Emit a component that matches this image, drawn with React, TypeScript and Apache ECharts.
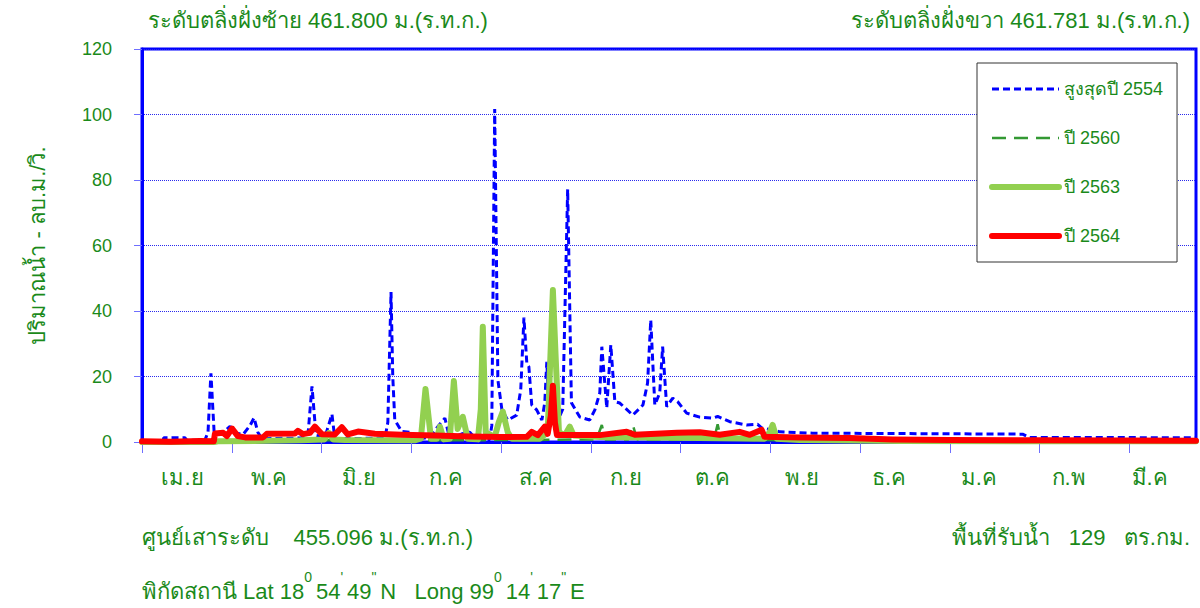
import React, { useEffect, useRef } from "react";
import * as echarts from "echarts";

const monthLabels = ["เม.ย", "พ.ค", "มิ.ย", "ก.ค", "ส.ค", "ก.ย", "ต.ค", "พ.ย", "ธ.ค", "ม.ค", "ก.พ", "มี.ค"];
const tickDays = [0, 31, 62, 93, 124, 155, 186, 217, 248, 279, 310, 341];
const labelDays = [14, 44, 75, 105, 136, 167, 197, 228, 258, 289, 320, 348];
const yTicks = [0, 20, 40, 60, 80, 100, 120];

const seriesNames = ["สูงสุดปี 2554", "ปี 2560", "ปี 2563", "ปี 2564"];

// [day since 1 Apr, m3/s]
const max2554 = [
  [0, 0], [7.2, 0], [7.5, 1.3], [14.8, 1.3], [15.5, 0.5], [21.7, 0.5], [22.8, 3], [23.8, 21], [24.9, 3.1],
  [27.6, 2.5], [30.4, 4.8], [32.1, 2.8], [34.9, 2.3], [37.3, 5], [38.7, 7.4], [40, 3], [41.4, 1.0],
  [54.5, 1.2], [57.3, 2], [58.7, 17], [60.1, 2], [63.2, 1.5], [65.6, 8.5], [66.6, 1], [83.9, 1.2],
  [84.9, 6], [86, 45.8], [86.6, 20], [87.3, 6.7], [89.7, 3.2], [92.5, 3], [93.5, 0.6], [99.4, 1.5],
  [101.8, 4.3], [104.6, 7.3], [106.3, 1.0], [110.5, 2.5], [113.2, 3], [115.6, 0.6], [120.1, 0.8],
  [120.8, 5], [121.8, 101.7], [122.9, 19], [124.3, 9.8], [126.3, 6.7], [129.4, 8.2], [130.8, 16],
  [131.9, 38], [132.9, 24], [133.6, 23], [134.6, 11.3], [136.3, 9.8], [138.1, 6.7], [139.1, 12],
  [139.8, 24.5], [140.5, 10.7], [144.3, 8], [145.3, 10], [147, 77.2], [148.3, 12], [151.2, 7.6],
  [154.6, 6.7], [156.4, 9.8], [158.1, 15], [158.8, 29.1], [160.5, 10.4], [161.9, 29.6], [163.3, 12.3],
  [165, 11.9], [169.5, 8.2], [173, 11.3], [174.6, 18], [175.7, 37.2], [177.1, 11.3], [178.8, 15],
  [179.8, 29.1], [181.2, 10.8], [183.3, 13.4], [185, 12.3], [188.1, 8.8], [192.6, 7.6], [197.1, 7.3],
  [198.8, 7.8], [203, 6.2], [208.8, 5.2], [212.6, 5.4], [214, 4.3], [217.8, 3.7], [220.2, 3.1],
  [231.6, 2.7], [304.1, 2.4], [306.5, 1.4], [364, 1.3]
];

const y2560 = [
  [0, 0.2], [25, 0.3], [60, 0.5], [100, 0.5], [126, 0.6], [128.5, 1.8], [130, 0.6], [157, 0.8],
  [158.8, 5.2], [160, 0.8], [168, 0.8], [169.5, 5.2], [171, 0.8], [192, 0.8], [193.3, 3.8],
  [194.5, 0.8], [197.5, 0.8], [198.8, 5.4], [200, 0.8], [220, 0.5], [260, 0.3], [364, 0.2]
];

const y2563 = [
  [0, 0], [25, 0], [26.2, 0.2], [54.5, 0.5], [63, 0.8], [64.5, 2.8], [66, 0.8], [70, 0.6], [89, 0.5],
  [94.2, 0.5], [96.3, 1], [97.9, 16.2], [99.8, 1], [101.8, 1], [102.9, 4.7], [104.2, 0.8], [106.3, 1],
  [107.7, 18.6], [109, 4], [110.8, 7.7], [112.5, 1], [116, 0.8], [117, 10], [117.7, 35.2], [118.7, 3],
  [121.8, 1.5], [123.2, 6], [124.6, 9.3], [126.3, 3], [127.7, 1], [137.4, 1], [140.1, 3], [141.2, 30],
  [141.9, 46.4], [142.9, 25], [144, 3], [146, 2], [147.7, 4.7], [149.1, 2], [158.1, 1.5], [192.6, 1.2],
  [215, 1.0], [216.8, 3], [217.8, 5.2], [219.2, 1], [227.1, 0.6], [261.6, 0.3], [364, 0.2]
];

const y2564 = [
  [0, 0.2], [10, 0.1], [20, 0.3], [24.8, 0.2], [25.2, 2.6], [28, 2.8], [29.3, 1.8], [31.1, 4.1],
  [33.1, 1.8], [35.6, 1.4], [41.8, 1.4], [43.1, 2.5], [52.8, 2.6], [53.8, 3.4], [55.6, 2.4], [58, 2.8],
  [59.7, 4.7], [62.1, 2.4], [66.6, 2.3], [69, 4.5], [71.1, 2.3], [74.6, 3.2], [80.4, 2.5], [89.7, 2.2],
  [101.1, 2.0], [113.2, 1.7], [123.6, 1.5], [132.9, 1.6], [134.6, 3.1], [136.7, 2.1], [139.1, 4.7],
  [140.1, 2.5], [141.2, 8], [141.9, 17.2], [142.6, 6], [143.3, 2.1], [158.1, 2.1], [167.4, 3.1],
  [170.2, 2.2], [184.7, 2.8], [192.6, 3.0], [199.5, 2.2], [206.4, 3.1], [209.9, 2.2], [214, 3.7],
  [215, 1.6], [227.1, 1.4], [244.4, 1.2], [259.2, 0.8], [278.9, 0.6], [313.4, 0.5], [364, 0.4]
];

const GREEN = "#1a8a1a";
const FONT = "'Liberation Sans', 'Noto Sans', sans-serif";
const C2554 = "#0000ff";
const C2560 = "#339933";
const C2563 = "#92d050";
const C2564 = "#ff0000";

export default function App() {
  const ref = useRef<HTMLDivElement>(null);
  useEffect(() => {
    document.body.style.margin = "0";
    if (!ref.current) return;
    const chart = echarts.init(ref.current, undefined, { renderer: "svg" });
    const option: any = {
      animation: false,
      textStyle: { fontFamily: FONT },
      grid: {
        left: 142, top: 49, width: 1054, height: 393, show: true,
        borderColor: "#0000ff", borderWidth: 3, backgroundColor: "#ffffff"
      },
      xAxis: {
        type: "value", min: 0, max: 364,
        axisLine: { show: true, lineStyle: { color: "#0000ff", width: 3 } },
        axisTick: { show: true, customValues: tickDays, length: 11, lineStyle: { color: "#6f6fff", width: 1 } },
        axisLabel: {
          customValues: labelDays, color: GREEN, fontSize: 22, margin: 24, fontFamily: FONT,
          formatter: (v: number) => monthLabels[labelDays.indexOf(v)] ?? ""
        },
        splitLine: { show: false }
      },
      yAxis: {
        type: "value", min: yTicks[0], max: yTicks[yTicks.length - 1], interval: 20,
        axisLine: { show: true, lineStyle: { color: "#0000ff", width: 3 } },
        axisTick: { show: true, length: 8, lineStyle: { color: "#6f6fff", width: 1 } },
        axisLabel: { color: GREEN, fontSize: 18, margin: 30, fontFamily: FONT },
        splitLine: { show: true, lineStyle: { color: "#2a2aee", type: "dotted", width: 1 } },
        name: "ปริมาณน้ำ - ลบ.ม./วิ.", nameLocation: "middle", nameGap: 94,
        nameTextStyle: { color: GREEN, fontSize: 22, fontFamily: FONT }
      },
      legend: {
        orient: "vertical", left: 977, top: 63,
        padding: [16, 14, 16, 12], itemGap: 29, itemWidth: 67, itemHeight: 14,
        backgroundColor: "#ffffff", borderColor: "#333333", borderWidth: 1, borderRadius: 0,
        textStyle: { color: GREEN, fontSize: 18, lineHeight: 20, fontFamily: FONT },
        itemStyle: { opacity: 0 },
        data: [
          { name: seriesNames[0], itemStyle: { opacity: 0 }, lineStyle: { color: C2554, width: 3, type: [7, 4] } },
          { name: seriesNames[1], itemStyle: { opacity: 0 }, lineStyle: { color: C2560, width: 2.5, type: [14, 8] } },
          { name: seriesNames[2], itemStyle: { opacity: 0 }, lineStyle: { color: C2563, width: 6, cap: "round" } },
          { name: seriesNames[3], itemStyle: { opacity: 0 }, lineStyle: { color: C2564, width: 6, cap: "round" } }
        ]
      },
      series: [
        {
          name: seriesNames[0], type: "line", data: max2554, symbol: "none", showSymbol: false, z: 2,
          lineStyle: { color: C2554, width: 3, type: [7, 4] }, itemStyle: { color: C2554 }
        },
        {
          name: seriesNames[1], type: "line", data: y2560, symbol: "none", showSymbol: false, z: 3,
          lineStyle: { color: C2560, width: 2.5, type: [14, 8] }, itemStyle: { color: C2560 }
        },
        {
          name: seriesNames[2], type: "line", data: y2563, symbol: "none", showSymbol: false, z: 4,
          lineStyle: { color: C2563, width: 6, cap: "round", join: "round" }, itemStyle: { color: C2563 }
        },
        {
          name: seriesNames[3], type: "line", data: y2564, symbol: "none", showSymbol: false, z: 5,
          lineStyle: { color: C2564, width: 6, cap: "round", join: "round" }, itemStyle: { color: C2564 }
        }
      ],
      graphic: [
        {
          type: "text", left: 148, top: 9,
          style: { text: "ระดับตลิ่งฝั่งซ้าย 461.800 ม.(ร.ท.ก.)", fill: GREEN, fontSize: 22, fontFamily: FONT }
        },
        {
          type: "text", right: 10, top: 9,
          style: { text: "ระดับตลิ่งฝั่งขวา 461.781 ม.(ร.ท.ก.)", fill: GREEN, fontSize: 22, fontFamily: FONT }
        },
        {
          type: "text", left: 142, top: 526,
          style: { text: "ศูนย์เสาระดับ    455.096 ม.(ร.ท.ก.)", fill: GREEN, fontSize: 22, fontFamily: FONT }
        },
        {
          type: "text", right: 10, top: 526,
          style: { text: "พื้นที่รับน้ำ   129   ตร.กม.", fill: GREEN, fontSize: 22, fontFamily: FONT }
        },
        {
          type: "text", left: 142, top: 570,
          style: {
            text: "{a|พิกัดสถานี Lat 18}{s|0 }{a|54}{s|' }{a|49}{s|\" }{a|N   Long 99}{s|0 }{a|14}{s|' }{a|17}{s|\" }{a|E}",
            rich: {
              a: { fill: GREEN, fontSize: 22, lineHeight: 32, fontFamily: FONT, verticalAlign: "bottom" },
              s: { fill: GREEN, fontSize: 14, lineHeight: 13, fontFamily: FONT, verticalAlign: "top" }
            }
          }
        }
      ]
    };
    chart.setOption(option);
    return () => chart.dispose();
  }, []);
  return <div ref={ref} style={{ width: 1200, height: 608 }} />;
}
